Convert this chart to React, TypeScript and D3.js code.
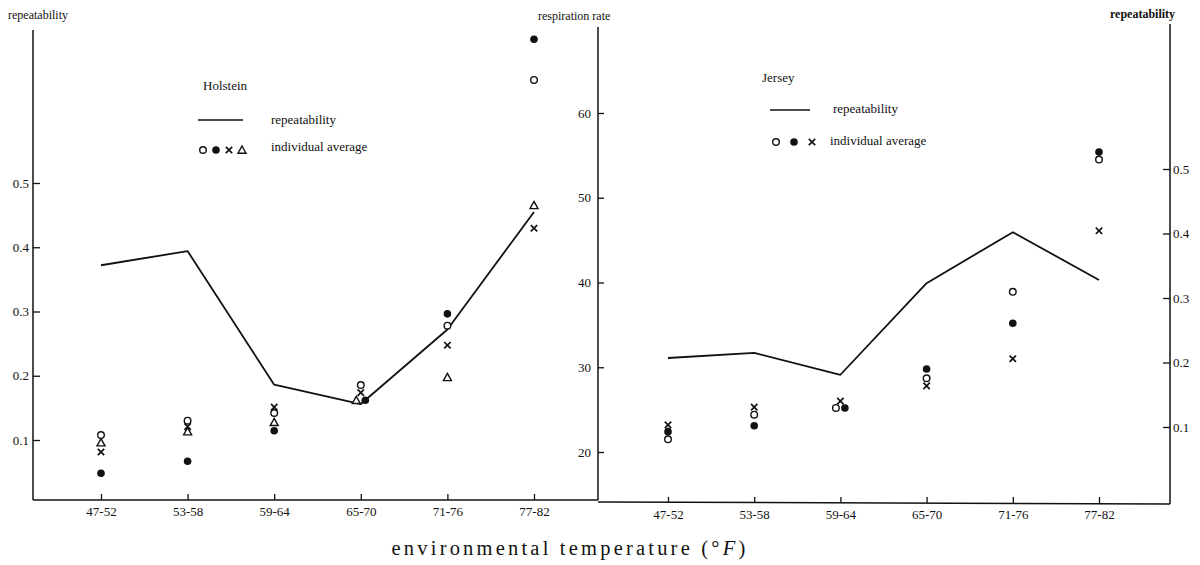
import React, { useEffect, useRef } from 'react';
import * as d3 from 'd3';

// temperature classes (x axis)
const categories = ['47-52', '53-58', '59-64', '65-70', '71-76', '77-82'];

// Holstein: repeatability (left axis) and individual averages of respiration rate
const holsteinRepeat = [0.372, 0.394, 0.186, 0.156, 0.272, 0.455];
const holsteinOpen = [22.0, 23.7, 24.6, 27.9, 34.9, 63.9];
const holsteinFilled = [17.5, 18.9, 22.5, 26.1, 36.3, 68.7];
const holsteinCross = [20.0, 23.0, 25.3, 27.0, 32.6, 46.4];
const holsteinTriangle = [21.1, 22.4, 23.5, 26.1, 28.8, 49.1];

// Jersey: repeatability (right axis) and individual averages
const jerseyRepeat = [0.207, 0.215, 0.181, 0.323, 0.402, 0.328];
const jerseyOpen = [21.5, 24.4, 25.2, 28.7, 38.9, 54.5];
const jerseyFilled = [22.4, 23.1, 25.2, 29.8, 35.2, 55.4];
const jerseyCross = [23.2, 25.3, 26.0, 27.8, 31.0, 46.1];

const repeatTicks = [0.1, 0.2, 0.3, 0.4, 0.5];
const respTicks = [20, 30, 40, 50, 60];

const FONT = '"Liberation Serif", "DejaVu Serif", serif';

function drawSymbol(g, type, x, y) {
  if (type === 'open') {
    g.append('circle').attr('cx', x).attr('cy', y).attr('r', 3.3)
      .attr('fill', 'white').attr('stroke', '#111').attr('stroke-width', 1.4);
  } else if (type === 'filled') {
    g.append('circle').attr('cx', x).attr('cy', y).attr('r', 3.8).attr('fill', '#111');
  } else if (type === 'cross') {
    const s = 3.2;
    g.append('path')
      .attr('d', `M${x - s},${y - s}L${x + s},${y + s}M${x + s},${y - s}L${x - s},${y + s}`)
      .attr('stroke', '#111').attr('stroke-width', 1.7).attr('fill', 'none');
  } else {
    const s = 4;
    g.append('path')
      .attr('d', `M${x},${y - s}L${x + s},${y + s * 0.8}L${x - s},${y + s * 0.8}Z`)
      .attr('stroke', '#111').attr('stroke-width', 1.4).attr('fill', 'white');
  }
}

export default function App() {
  const ref = useRef(null);

  useEffect(() => {
    const svg = d3.select(ref.current);
    svg.selectAll('*').remove();

    const xL = d3.scalePoint().domain(categories).range([101, 534]);
    const xR = d3.scalePoint().domain(categories).range([668, 1099]);
    const yRepL = d3.scaleLinear().domain([0.1, 0.5]).range([440, 183]);
    const yRepR = d3.scaleLinear().domain([0.1, 0.5]).range([427, 169]);
    const yResp = d3.scaleLinear().domain([20, 60]).range([452, 113]);

    const frame = svg.append('g').attr('stroke', '#111').attr('stroke-width', 1.5);
    frame.append('line').attr('x1', 33).attr('x2', 33).attr('y1', 30).attr('y2', 500);
    frame.append('line').attr('x1', 598).attr('x2', 598).attr('y1', 27).attr('y2', 500);
    frame.append('line').attr('x1', 1170).attr('x2', 1170).attr('y1', 24).attr('y2', 504);
    frame.append('line').attr('x1', 33).attr('x2', 598).attr('y1', 500).attr('y2', 500);
    frame.append('line').attr('x1', 598).attr('x2', 1170).attr('y1', 502).attr('y2', 504);

    const styleAxis = g => {
      g.select('.domain').remove();
      g.selectAll('line').attr('stroke', '#111').attr('stroke-width', 1.3);
      g.selectAll('text').attr('fill', '#111').style('font-family', FONT).style('font-size', '13px');
    };

    svg.append('g').attr('transform', 'translate(33,0)')
      .call(d3.axisLeft(yRepL).tickValues(repeatTicks).tickSize(-7).tickPadding(4).tickFormat(d3.format('.1f')))
      .call(styleAxis);
    svg.append('g').attr('transform', 'translate(598,0)')
      .call(d3.axisLeft(yResp).tickValues(respTicks).tickSize(-6).tickPadding(7))
      .call(styleAxis);
    svg.append('g').attr('transform', 'translate(1170,0)')
      .call(d3.axisRight(yRepR).tickValues(repeatTicks).tickSize(-7).tickPadding(3).tickFormat(d3.format('.1f')))
      .call(styleAxis);
    svg.append('g').attr('transform', 'translate(0,500)')
      .call(d3.axisBottom(xL).tickSize(-6).tickPadding(7))
      .call(styleAxis);
    svg.append('g').attr('transform', 'translate(0,503)')
      .call(d3.axisBottom(xR).tickSize(-6).tickPadding(7))
      .call(styleAxis);

    // repeatability lines
    const lineL = d3.line().x((d, i) => xL(categories[i])).y(d => yRepL(d));
    const lineR = d3.line().x((d, i) => xR(categories[i])).y(d => yRepR(d));
    svg.append('path').datum(holsteinRepeat).attr('d', lineL)
      .attr('fill', 'none').attr('stroke', '#111').attr('stroke-width', 1.8).attr('stroke-linejoin', 'round');
    svg.append('path').datum(jerseyRepeat).attr('d', lineR)
      .attr('fill', 'none').attr('stroke', '#111').attr('stroke-width', 1.8).attr('stroke-linejoin', 'round');

    // individual averages
    const plotGroup = (x, series) => {
      const g = svg.append('g');
      categories.forEach((c, i) => {
        const vals = series.map(s => s.values[i]);
        series.forEach((s, k) => {
          // nudge symbols sideways when two sit at the same height
          const twin = vals.findIndex((v, j) => j !== k && Math.abs(v - vals[k]) < 0.3);
          const dx = twin < 0 ? 0 : (k < twin ? -4.5 : 4.5);
          drawSymbol(g, s.type, x(c) + dx, yResp(s.values[i]));
        });
      });
    };
    plotGroup(xL, [
      { type: 'triangle', values: holsteinTriangle },
      { type: 'cross', values: holsteinCross },
      { type: 'open', values: holsteinOpen },
      { type: 'filled', values: holsteinFilled },
    ]);
    plotGroup(xR, [
      { type: 'cross', values: jerseyCross },
      { type: 'open', values: jerseyOpen },
      { type: 'filled', values: jerseyFilled },
    ]);

    // legends
    const leg = svg.append('g');
    leg.append('text').attr('x', 203).attr('y', 90).text('Holstein');
    leg.append('line').attr('x1', 198).attr('x2', 243).attr('y1', 120).attr('y2', 120)
      .attr('stroke', '#111').attr('stroke-width', 1.6);
    leg.append('text').attr('x', 271).attr('y', 124).text('repeatability');
    ['open', 'filled', 'cross', 'triangle'].forEach((t, i) => drawSymbol(leg, t, 203 + i * 13, 150));
    leg.append('text').attr('x', 271).attr('y', 151).text('individual average');

    leg.append('text').attr('x', 762).attr('y', 82).text('Jersey');
    leg.append('line').attr('x1', 770).attr('x2', 810).attr('y1', 110).attr('y2', 110)
      .attr('stroke', '#111').attr('stroke-width', 1.6);
    leg.append('text').attr('x', 833).attr('y', 113).text('repeatability');
    ['open', 'filled', 'cross'].forEach((t, i) => drawSymbol(leg, t, 776 + i * 18, 142));
    leg.append('text').attr('x', 830).attr('y', 145).text('individual average');
    leg.selectAll('text').attr('fill', '#111').style('font-family', FONT).style('font-size', '13px');

    // axis titles
    const titles = svg.append('g').style('font-family', FONT).style('font-size', '12px').attr('fill', '#111');
    titles.append('text').attr('x', 8).attr('y', 19).text('repeatability');
    titles.append('text').attr('x', 538).attr('y', 20).text('respiration rate');
    titles.append('text').attr('x', 1110).attr('y', 18).style('font-weight', 'bold').text('repeatability');

    const t = svg.append('text').attr('x', 570).attr('y', 555).attr('text-anchor', 'middle')
      .style('font-family', FONT).style('font-size', '20.5px').style('letter-spacing', '3.2px').attr('fill', '#111');
    t.append('tspan').text('environmental temperature (°');
    t.append('tspan').style('font-style', 'italic').text('F');
    t.append('tspan').text(')');
  }, []);

  return (
    <svg ref={ref} width={1200} height={565}
      style={{ position: 'absolute', left: 0, top: 0, background: 'white' }} />
  );
}
